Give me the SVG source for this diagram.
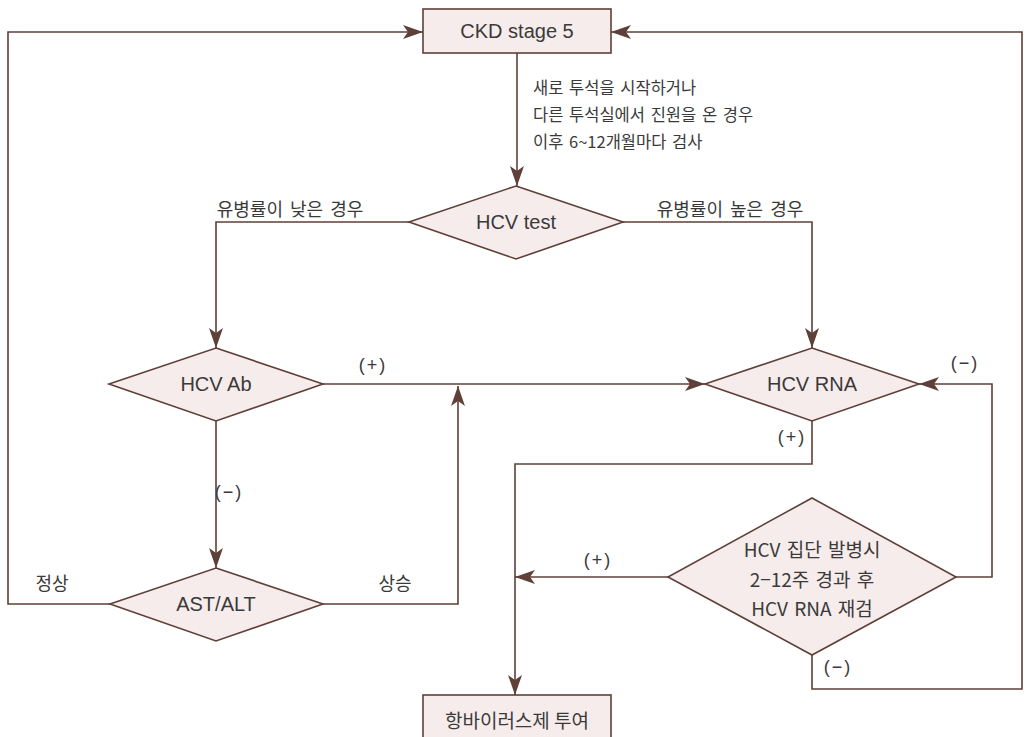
<svg xmlns="http://www.w3.org/2000/svg" width="1027" height="737" viewBox="0 0 1027 737">
<style>
.ln{fill:none;stroke:#5e4038;stroke-width:1.6}
.nd{fill:#f6eceb;stroke:#5e4038;stroke-width:1.6}
.en{font-family:"Liberation Sans","Noto Sans CJK KR",sans-serif;font-size:20px;fill:#3a3a3a;text-anchor:middle;dominant-baseline:central}
.ko{font-family:"Noto Sans CJK KR","Liberation Sans",sans-serif;font-size:19px;fill:#3a3a3a;text-anchor:middle;dominant-baseline:central;word-spacing:2px}
.lb{font-family:"Noto Sans CJK KR","Liberation Sans",sans-serif;font-size:18px;fill:#3a3a3a;text-anchor:middle;dominant-baseline:central;word-spacing:3px}
.an{font-family:"Noto Sans CJK KR","Liberation Sans",sans-serif;font-size:16.5px;fill:#3a3a3a;dominant-baseline:central;word-spacing:2px}
.pm{font-family:"Liberation Sans",sans-serif;font-size:18px;fill:#3a3a3a;text-anchor:middle;dominant-baseline:central;letter-spacing:2px}
</style>
<defs>
<marker id="ah" viewBox="0 0 20 14" refX="20" refY="7" markerWidth="20" markerHeight="14" markerUnits="userSpaceOnUse" orient="auto">
<path d="M0,0 L20,7 L0,14 L5,7 Z" fill="#5e4038"/>
</marker>
</defs>
<g id="connectors">
<path class="ln" d="M517,53 V186" marker-end="url(#ah)"/>
<path class="ln" d="M409,222 H216 V348" marker-end="url(#ah)"/>
<path class="ln" d="M623,222 H812 V348" marker-end="url(#ah)"/>
<path class="ln" d="M323,384 H705" marker-end="url(#ah)"/>
<path class="ln" d="M216,421 V568" marker-end="url(#ah)"/>
<path class="ln" d="M110,604 H8 V32 H423" marker-end="url(#ah)"/>
<path class="ln" d="M323,604 H458 V386" marker-end="url(#ah)"/>
<path class="ln" d="M812,421 V464 H515 V695" marker-end="url(#ah)"/>
<path class="ln" d="M668,577 H515" marker-end="url(#ah)"/>
<path class="ln" d="M956,577 H992 V384 H919" marker-end="url(#ah)"/>
<path class="ln" d="M812,655 V689 H1022 V32 H611" marker-end="url(#ah)"/>
</g>
<g id="labels">
<text class="an" x="533" y="87">새로 투석을 시작하거나</text>
<text class="an" x="533" y="114">다른 투석실에서 진원을 온 경우</text>
<text class="an" x="533" y="141">이후 6~12개월마다 검사</text>
<text class="lb" x="290" y="208">유병률이 낮은 경우</text>
<text class="lb" x="730" y="208">유병률이 높은 경우</text>
<text class="pm" x="373" y="365">(+)</text>
<text class="pm" x="965" y="363">(−)</text>
<text class="pm" x="792" y="437">(+)</text>
<text class="pm" x="229" y="492">(−)</text>
<text class="pm" x="598" y="560">(+)</text>
<text class="pm" x="838" y="667">(−)</text>
<text class="lb" x="52" y="582">정상</text>
<text class="lb" x="395" y="582">상승</text>
</g>
<g id="ckd">
<rect class="nd" x="423" y="9" width="188" height="44"/>
<text class="en" x="517" y="31">CKD stage 5</text>
</g>
<g id="hcv-test">
<polygon class="nd" points="516,186 623,222 516,259 409,222"/>
<text class="en" x="516" y="222">HCV test</text>
</g>
<g id="hcv-ab">
<polygon class="nd" points="216,348 323,384 216,421 109,384"/>
<text class="en" x="216" y="384">HCV Ab</text>
</g>
<g id="hcv-rna">
<polygon class="nd" points="812,348 919,384 812,421 705,384"/>
<text class="en" x="812" y="384">HCV RNA</text>
</g>
<g id="ast-alt">
<polygon class="nd" points="216,568 323,604 216,641 110,604"/>
<text class="en" x="216" y="604">AST/ALT</text>
</g>
<g id="outbreak">
<polygon class="nd" points="812,498 956,577 812,655 668,577"/>
<text class="ko" x="812" y="548">HCV 집단 발병시</text>
<text class="ko" x="812" y="578">2−12주 경과 후</text>
<text class="ko" x="812" y="607">HCV RNA 재검</text>
</g>
<g id="antiviral">
<rect class="nd" x="423" y="695" width="188" height="44"/>
<text class="ko" x="517" y="719" style="word-spacing:0">항바이러스제 투여</text>
</g>
</svg>
